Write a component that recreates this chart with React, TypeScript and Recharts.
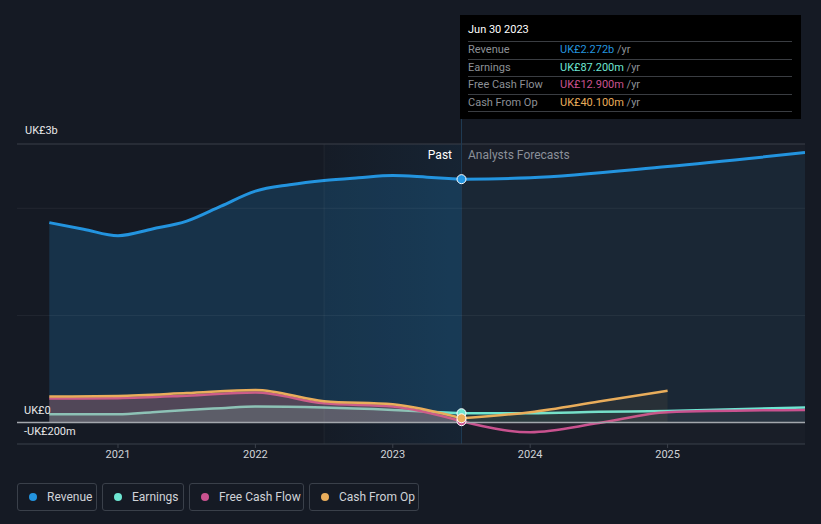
import {
    ComposedChart,
    Area,
    XAxis,
    YAxis,
    ReferenceLine,
    ReferenceArea,
    ReferenceDot
} from 'recharts';

// values in UK£ billions
const revYears = [2020.5, 2020.75, 2021, 2021.25, 2021.5, 2021.75, 2022, 2022.25, 2022.5, 2022.75, 2023, 2023.25, 2023.5, 2024, 2025, 2026];
const revenue = [1.866, 1.805, 1.744, 1.807, 1.88, 2.02, 2.16, 2.22, 2.26, 2.285, 2.305, 2.29, 2.272, 2.285, 2.39, 2.52];

const earnYears = [2020.5, 2021, 2021.25, 2021.5, 2021.75, 2022, 2022.5, 2023, 2023.5, 2024, 2024.5, 2025, 2026];
const earnings = [0.078, 0.078, 0.097, 0.118, 0.134, 0.149, 0.14, 0.118, 0.0872, 0.088, 0.1, 0.109, 0.14];

const fcfYears = [2020.5, 2021, 2021.5, 2022, 2022.5, 2023, 2023.5, 2024, 2024.5, 2025, 2026];
const freeCashFlow = [0.224, 0.228, 0.25, 0.28, 0.18, 0.15, 0.0129, -0.09, -0.005, 0.097, 0.118];

const cfoYears = [2020.5, 2021, 2021.5, 2022, 2022.5, 2023, 2023.5, 2024, 2024.5, 2025];
const cashFromOp = [0.243, 0.249, 0.275, 0.305, 0.2, 0.17, 0.0401, 0.097, 0.196, 0.296];

const xTicks = [2021, 2022, 2023, 2024, 2025];
const nowYear = 2023.5;

const C_REV = '#2394df';
const C_EARN = '#6ee6d2';
const C_FCF = '#c9528f';
const C_CFO = '#e9ad5b';

const font = 'Roboto, "Noto Sans", sans-serif';

type Row = { [k: string]: number | null };

function buildData() {
    const all = new Set<number>([...revYears, ...earnYears, ...fcfYears, ...cfoYears]);
    const xs = Array.from(all).sort((a, b) => a - b);
    const put = (row: Row, key: string, years: number[], vals: number[], x: number) => {
        const i = years.indexOf(x);
        const v = i >= 0 ? vals[i] : null;
        row[key + 'P'] = v !== null && x <= nowYear ? v : null;
        row[key + 'F'] = v !== null && x >= nowYear ? v : null;
    };
    return xs.map(x => {
        const row: Row = { x };
        put(row, 'rev', revYears, revenue, x);
        put(row, 'earn', earnYears, earnings, x);
        put(row, 'fcf', fcfYears, freeCashFlow, x);
        put(row, 'cfo', cfoYears, cashFromOp, x);
        return row;
    });
}

const data = buildData();

const series = [
    { key: 'earn', color: C_EARN, p: 0.18, f: 0.06 },
    { key: 'fcf', color: C_FCF, p: 0.22, f: 0.06 },
    { key: 'cfo', color: C_CFO, p: 0.12, f: 0.07 }
];

const legendItems = [
    { name: 'Revenue', color: C_REV, w: 80 },
    { name: 'Earnings', color: C_EARN, w: 82 },
    { name: 'Free Cash Flow', color: C_FCF, w: 115 },
    { name: 'Cash From Op', color: C_CFO, w: 110 }
];

const tipRows = [
    { name: 'Revenue', value: 'UK£2.272b', color: C_REV },
    { name: 'Earnings', value: 'UK£87.200m', color: C_EARN },
    { name: 'Free Cash Flow', value: 'UK£12.900m', color: C_FCF },
    { name: 'Cash From Op', value: 'UK£40.100m', color: C_CFO }
];

const abs = (left: number, top: number, extra: React.CSSProperties = {}): React.CSSProperties => ({
    position: 'absolute',
    left,
    top,
    whiteSpace: 'nowrap',
    ...extra
});

export default function App() {
    return (
        <div
            style={{
                position: 'absolute',
                left: 0,
                top: 0,
                width: 821,
                height: 524,
                background: '#151a24',
                fontFamily: font,
                overflow: 'hidden'
            }}
        >
            <div style={abs(0, 0)}>
                <ComposedChart
                    width={821}
                    height={470}
                    data={data}
                    margin={{ top: 144, right: 16, left: 17, bottom: 0 }}
                >
                    <defs>
                        <linearGradient id='hl' x1='0' y1='0' x2='1' y2='0'>
                            <stop offset='0%' stopColor='#2394df' stopOpacity={0.03} />
                            <stop offset='100%' stopColor='#2394df' stopOpacity={0.16} />
                        </linearGradient>
                    </defs>
                    <XAxis
                        type='number'
                        dataKey='x'
                        domain={[2020.265, 2026]}
                        ticks={xTicks}
                        allowDataOverflow
                        height={26}
                        axisLine={{ stroke: '#3b404a' }}
                        tickLine={{ stroke: '#3b404a' }}
                        tickSize={4}
                        tick={{ fill: '#d0d3d8', fontSize: 11, fontFamily: font }}
                    />
                    <YAxis hide type='number' domain={[-0.2, 2.6]} allowDataOverflow />
                    <ReferenceArea x1={2022.5} x2={nowYear} y1={-0.2} y2={2.6} fill='url(#hl)' stroke='none' />
                    <ReferenceArea x1={nowYear} x2={2026} y1={-0.2} y2={2.6} fill='#ffffff' fillOpacity={0.018} stroke='none' />
                    <ReferenceLine x={nowYear} stroke='#1f3a52' />
                    <Area
                        type='monotone'
                        dataKey='revP'
                        stroke={C_REV}
                        strokeWidth={3}
                        fill={C_REV}
                        fillOpacity={0.2}
                        connectNulls
                        isAnimationActive={false}
                    />
                    <Area
                        type='monotone'
                        dataKey='revF'
                        stroke={C_REV}
                        strokeWidth={3}
                        fill={C_REV}
                        fillOpacity={0.08}
                        connectNulls
                        isAnimationActive={false}
                    />
                    <ReferenceLine x={2022.5} stroke='#ffffff' strokeOpacity={0.05} />
                    <ReferenceLine y={1} stroke='#ffffff' strokeOpacity={0.06} />
                    <ReferenceLine y={2} stroke='#ffffff' strokeOpacity={0.06} />
                    <ReferenceLine y={2.6} stroke='#3a3f49' />
                    {series.map(s => (
                        <Area
                            key={s.key + 'P'}
                            type='monotone'
                            dataKey={s.key + 'P'}
                            stroke={s.color}
                            strokeWidth={2.5}
                            fill={s.color}
                            fillOpacity={s.p}
                            connectNulls
                            isAnimationActive={false}
                        />
                    ))}
                    {series.map(s => (
                        <Area
                            key={s.key + 'F'}
                            type='monotone'
                            dataKey={s.key + 'F'}
                            stroke={s.color}
                            strokeWidth={2.5}
                            fill={s.color}
                            fillOpacity={s.f}
                            connectNulls
                            isAnimationActive={false}
                        />
                    ))}
                    <ReferenceLine y={0} stroke='#a3a7ad' strokeWidth={1.5} />
                    <ReferenceDot x={nowYear} y={revenue[revYears.indexOf(nowYear)]} r={4.5} fill={C_REV} stroke='#fff' strokeWidth={1} />
                    <ReferenceDot x={nowYear} y={earnings[earnYears.indexOf(nowYear)]} r={4.5} fill={C_EARN} stroke='#fff' strokeWidth={1} />
                    <ReferenceDot x={nowYear} y={freeCashFlow[fcfYears.indexOf(nowYear)]} r={4.5} fill={C_FCF} stroke='#fff' strokeWidth={1} />
                    <ReferenceDot x={nowYear} y={cashFromOp[cfoYears.indexOf(nowYear)]} r={4.5} fill={C_CFO} stroke='#fff' strokeWidth={1} />
                </ComposedChart>
            </div>

            {/* connector from tooltip to now-line */}
            <div style={abs(461, 119, { width: 1, height: 26, background: '#1f3a52' })} />

            {/* y labels */}
            <div style={abs(25, 124, { fontSize: 11, color: '#e8e8e8' })}>UK£3b</div>
            <div style={abs(24, 404, { fontSize: 11, color: '#e8e8e8' })}>UK£0</div>
            <div style={abs(24, 425, { fontSize: 11, color: '#e8e8e8' })}>-UK£200m</div>

            {/* past / forecast */}
            <div style={abs(0, 148, { width: 452, textAlign: 'right', fontSize: 12, color: '#ffffff' })}>Past</div>
            <div style={abs(468, 148, { fontSize: 12, color: '#8b9099' })}>Analysts Forecasts</div>

            {/* tooltip */}
            <div style={abs(460, 15, { width: 341, height: 104, background: '#000000' })}>
                <div style={abs(8, 8, { fontSize: 11, color: '#ffffff' })}>Jun 30 2023</div>
                {tipRows.map((r, i) => (
                    <div key={r.name}>
                        <div style={abs(8, 26 + i * 17.5, { width: 324, height: 1, background: '#3a3d42' })} />
                        <div style={abs(8, 27 + i * 17.5, { fontSize: 11, lineHeight: '16px', color: '#8d9096' })}>{r.name}</div>
                        <div style={abs(100, 27 + i * 17.5, { fontSize: 11, lineHeight: '16px', color: '#8d9096' })}>
                            <span style={{ color: r.color }}>{r.value}</span> /yr
                        </div>
                    </div>
                ))}
                <div style={abs(8, 96, { width: 324, height: 1, background: '#3a3d42' })} />
            </div>

            {/* legend */}
            <div style={abs(17, 483, { display: 'flex', gap: 5 })}>
                {legendItems.map(l => (
                    <div
                        key={l.name}
                        style={{
                            boxSizing: 'border-box',
                            width: l.w,
                            height: 28,
                            border: '1px solid #3a404a',
                            borderRadius: 3,
                            display: 'flex',
                            alignItems: 'center',
                            paddingLeft: 11,
                            fontSize: 12,
                            color: '#d0d3d8'
                        }}
                    >
                        <span
                            style={{
                                width: 8,
                                height: 8,
                                borderRadius: 4,
                                background: l.color,
                                marginRight: 10,
                                display: 'inline-block'
                            }}
                        />
                        {l.name}
                    </div>
                ))}
            </div>
        </div>
    );
}
